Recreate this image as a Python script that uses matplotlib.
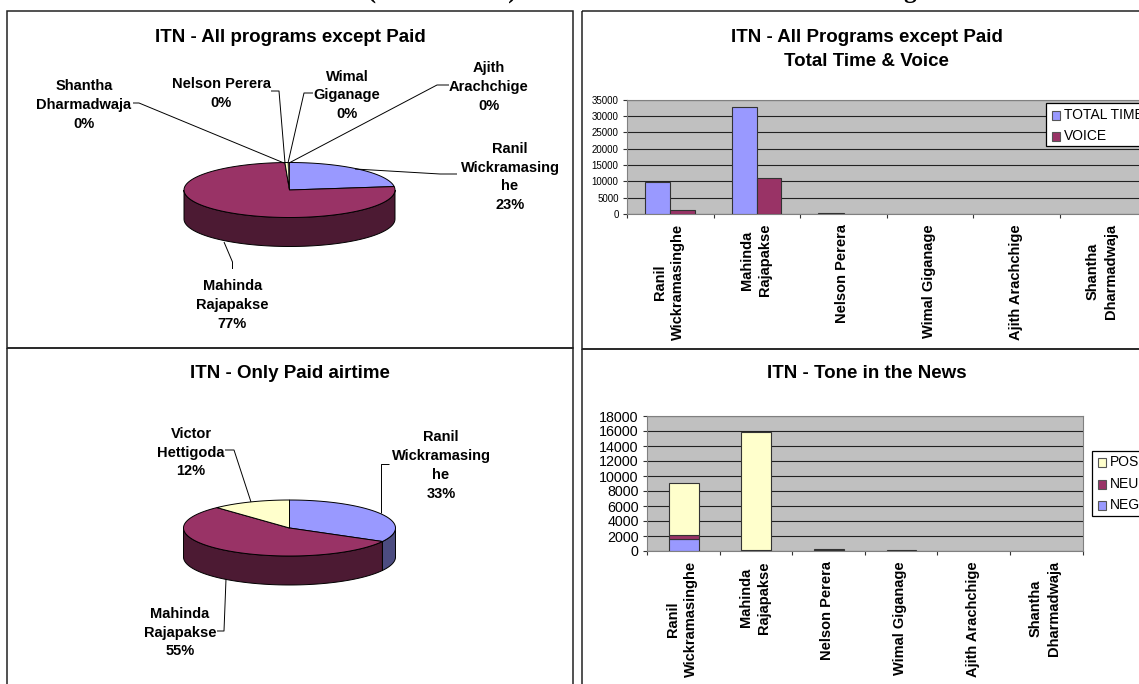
"""ITN coverage: two 3D-look pies and two bar charts on one page, cropped at the edges."""
import numpy as np
import matplotlib
matplotlib.use("Agg")
import matplotlib.pyplot as plt
from matplotlib.patches import Polygon, Rectangle

W, H = 1139, 684

plt.rcParams.update({
    "font.family": ["Liberation Sans", "DejaVu Sans"],
    "font.weight": "bold", "font.size": 10.5,
})

BLUE = "#9999FF"
PLUM = "#993366"
CREAM = "#FFFFCC"
DARK = {BLUE: "#4C4C80", PLUM: "#4C1A33", CREAM: "#80805F"}
GREY = "#C0C0C0"

PAGE_TITLE = "ITN (State owned) : time allocation and tone of coverage"

PIE1_VALUES = [23, 76.3, 0.5, 0.1, 0.05, 0.05]
PIE1_COLORS = [BLUE, PLUM, CREAM, "#CCFFFF", "#660066", "#FF8080"]
PIE2_VALUES = [33, 55, 12]
PIE2_COLORS = [BLUE, PLUM, CREAM]

NAMES = ["Ranil\nWickramasinghe", "Mahinda\nRajapakse", "Nelson Perera",
         "Wimal Giganage", "Ajith Arachchige", "Shantha\nDharmadwaja"]

TOTAL_TIME = [9800, 32800, 300, 0, 0, 0]
VOICE = [1300, 10900, 0, 0, 0, 0]
TIME_TICKS = [0, 5000, 10000, 15000, 20000, 25000, 30000, 35000]

TONE_NEG = [1650, 60, 40, 30, 0, 0]
TONE_NEU = [450, 60, 40, 20, 0, 0]
TONE_POS = [7000, 15780, 170, 50, 0, 0]
TONE_TICKS = list(range(0, 18001, 2000))


def px_axes(fig, x0, y0, x1, y1, **kw):
    """Axes placed with pixel corners, y measured from the top of the page."""
    return fig.add_axes([x0 / W, 1 - y1 / H, (x1 - x0) / W, (y1 - y0) / H], **kw)


def pie3d(ax, values, colors, cx, cy, rx, ry, depth):
    """Tilted pie in page pixels: slices run clockwise from 12 o'clock."""
    angles = np.cumsum([0] + list(values)) / sum(values) * 2 * np.pi
    # rim first, so the top faces cover it
    for a0, a1, c in zip(angles[:-1], angles[1:], colors):
        lo, hi = max(a0, np.pi / 2), min(a1, 3 * np.pi / 2)
        if hi <= lo:
            continue
        t = np.linspace(lo, hi, 80)
        xs, ys = cx + rx * np.sin(t), cy - ry * np.cos(t)
        pts = np.r_[np.c_[xs, ys], np.c_[xs, ys + depth][::-1]]
        ax.add_patch(Polygon(pts, fc=DARK[c], ec="black", lw=0.7, zorder=2))
    for a0, a1, c in zip(angles[:-1], angles[1:], colors):
        t = np.linspace(a0, a1, 120)
        pts = np.r_[[[cx, cy]], np.c_[cx + rx * np.sin(t), cy - ry * np.cos(t)]]
        lw = 0.7 if a1 - a0 > 0.02 else 0.2
        ax.add_patch(Polygon(pts, fc=c, ec="black", lw=lw, zorder=3))


def leader(ax, xs, ys):
    ax.plot(xs, ys, color="black", lw=0.7, zorder=4, solid_capstyle="butt")


def bar_axes(fig, box, n_cats, ticks, tick_size):
    ax = px_axes(fig, *box, facecolor=GREY)
    ax.set_xlim(0, n_cats)
    ax.set_ylim(ticks[0], ticks[-1])
    ax.set_yticks(ticks)
    ax.set_xticks(range(7))
    ax.set_xticklabels([])
    ax.tick_params(axis="y", labelsize=tick_size, length=3, width=0.8, pad=3, color="#333333")
    ax.tick_params(axis="x", length=3, width=0.8, color="#333333")
    for lab in ax.get_yticklabels():
        lab.set_fontweight("normal")
    ax.yaxis.grid(True, color="#222222", lw=0.8)
    ax.set_axisbelow(True)
    for s in ax.spines.values():
        s.set_color("#808080")
    return ax


def draw_bars(ax, x, values, width, color, bottom=None):
    values = np.array(values, dtype=float)
    bottom = np.zeros(len(values)) if bottom is None else bottom
    keep = values > 0  # nothing is drawn for empty categories
    ax.bar(x[keep], values[keep], width=width, bottom=bottom[keep], align="edge",
           color=color, ec="#333333", lw=0.8, zorder=3)


def name_labels(page, xs, y, size):
    for x, name in zip(xs, NAMES):
        page.text(x, y, name, rotation=90, ha="center", va="top", fontsize=size,
                  linespacing=1.37, multialignment="center", zorder=6)


def legend_box(page, x, y, w, h, entries, size):
    page.add_patch(Rectangle((x, y), w, h, fc="white", ec="black", lw=0.9, zorder=6))
    for ey, c, lab in entries:
        page.add_patch(Rectangle((x + 6, ey - 4.5), 8.5, 9, fc=c, ec="#555555", lw=0.8, zorder=7))
        page.text(x + 18.5, ey, lab, va="center", fontsize=size, fontweight="normal", zorder=7)


fig = plt.figure(figsize=(W / 100, H / 100), dpi=100, facecolor="white")

# page layer in pixel coordinates, above the bar axes for frames and labels
page = fig.add_axes([0, 0, 1, 1], zorder=5)
page.set_xlim(0, W)
page.set_ylim(H, 0)
page.axis("off")
page.patch.set_alpha(0)

# the reference crops this line at the top of the page, only the descenders show
page.text(622, -9, PAGE_TITLE, ha="center", va="center", fontsize=18.3,
          family="Liberation Serif", fontweight="bold")

# chart frames
for x0, y0, x1, y1 in [(7, 11, 573, 348), (582, 11, 1150, 349),
                       (7, 348, 573, 700), (582, 349, 1150, 700)]:
    page.add_patch(Rectangle((x0, y0), x1 - x0, y1 - y0, fc="none", ec="#222222", lw=1.1))

# top-left pie
page.text(290, 37, "ITN - All programs except Paid", ha="center", va="center", fontsize=13.5)
pie3d(page, PIE1_VALUES, PIE1_COLORS, 289.5, 190, 105.5, 27.5, 29)
for x, y, txt in [(84, 105, "Shantha\nDharmadwaja\n0%"), (221, 93.5, "Nelson Perera\n0%"),
                  (347, 95.5, "Wimal\nGiganage\n0%"), (489, 87, "Ajith\nArachchige\n0%"),
                  (510, 177, "Ranil\nWickramasing\nhe\n23%"), (232.5, 305, "Mahinda\nRajapakse\n77%")]:
    page.text(x, y, txt, ha="center", va="center", fontsize=10.5, linespacing=1.45)
leader(page, [133, 139, 284], [103, 103, 163])
leader(page, [271, 279, 285], [91, 91, 163])
leader(page, [313, 304, 288], [93, 93, 163])
leader(page, [449, 437, 289], [85, 85, 163])
leader(page, [457, 440, 355], [174, 174, 169])
leader(page, [224, 232.5, 232.5], [242, 262, 269])

# bottom-left pie
page.text(290, 373, "ITN - Only Paid airtime", ha="center", va="center", fontsize=13.5)
pie3d(page, PIE2_VALUES, PIE2_COLORS, 289.5, 528, 106, 28, 29)
for x, y, txt in [(191, 452.5, "Victor\nHettigoda\n12%"), (441, 465.5, "Ranil\nWickramasing\nhe\n33%"),
                  (180, 632.5, "Mahinda\nRajapakse\n55%")]:
    page.text(x, y, txt, ha="center", va="center", fontsize=10.5, linespacing=1.45)
leader(page, [225, 234, 251], [450, 450, 502])
leader(page, [389, 381, 381], [464, 464, 513])
leader(page, [217, 224, 226], [631, 631, 579])

# top-right bars
page.text(866.5, 37, "ITN - All Programs except Paid", ha="center", va="center", fontsize=13.5)
page.text(866.5, 61, "Total Time & Voice", ha="center", va="center", fontsize=13.5)
ax1 = bar_axes(fig, (627, 99.5, 1146.6, 214), 6, TIME_TICKS, 7)
cat1 = np.arange(6)
draw_bars(ax1, cat1 + 0.21, TOTAL_TIME, 0.29, BLUE)
draw_bars(ax1, cat1 + 0.5, VOICE, 0.28, PLUM)
name_labels(page, [669, 756, 842, 928.6, 1016, 1101.6], 224, 10.5)
legend_box(page, 1045.5, 103, 150, 43,
           [(115, BLUE, "TOTAL TIME"), (136, PLUM, "VOICE")], 10)

# bottom-right bars
page.text(866.5, 373, "ITN - Tone in the News", ha="center", va="center", fontsize=13.5)
ax2 = bar_axes(fig, (647, 416, 1082.5, 551), 6, TONE_TICKS, 10.3)
cat2 = np.arange(6) + 0.3
neg, neu = np.array(TONE_NEG, dtype=float), np.array(TONE_NEU, dtype=float)
draw_bars(ax2, cat2, TONE_NEG, 0.41, BLUE)
draw_bars(ax2, cat2, TONE_NEU, 0.41, PLUM, bottom=neg)
draw_bars(ax2, cat2, TONE_POS, 0.41, CREAM, bottom=neg + neu)
name_labels(page, [682, 755, 826.6, 899.6, 973, 1045], 561, 10.5)
legend_box(page, 1091.5, 450.5, 110, 65,
           [(462, CREAM, "POS"), (484, PLUM, "NEU"), (505, BLUE, "NEG")], 10)

page.set_xlim(0, W)
page.set_ylim(H, 0)
fig.savefig("out.png", dpi=100)
